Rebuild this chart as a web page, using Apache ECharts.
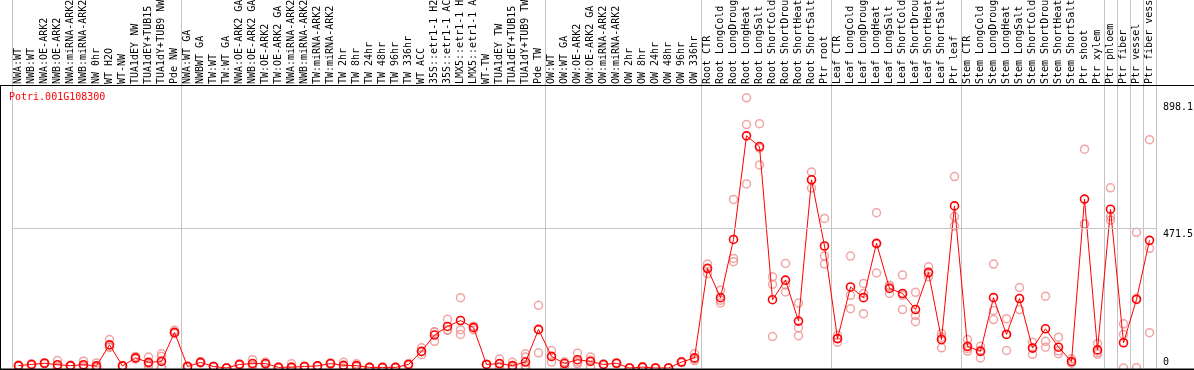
<!DOCTYPE html>
<html><head><meta charset="utf-8">
<script src="https://cdn.jsdelivr.net/npm/echarts@6/dist/echarts.min.js"></script>
<style>html,body{margin:0;padding:0;background:#fff}#c{width:1194px;height:370px}</style>
</head><body><div id="c"></div><script>
const geneName = 'Potri.001G108300';
const categories = [
 'NWA:WT','NWB:WT','NWA:OE-ARK2','NWB:OE-ARK2','NWA:miRNA-ARK2','NWB:miRNA-ARK2','NW 0hr','WT H2O','WT-NW','TUA1dEY NW','TUA1dEY+TUB15','TUA1dY+TUB9 NW','Pde NW',
 'NWA:WT GA','NWBWT GA','TW:WT','TW:WT GA','NWA:OE-ARK2 GA','NWB:OE-ARK2 GA','TW:OE-ARK2','TW:OE-ARK2 GA','NWA:miRNA-ARK2','NWB:miRNA-ARK2','TW:miRNA-ARK2','TW:miRNA-ARK2','TW 2hr','TW 8hr','TW 24hr','TW 48hr','TW 96hr','TW 336hr','WT ACC','35S::etr1-1 H2','35S::etr1-1 AC','LMX5::etr1-1 H','LMX5::etr1-1 A','WT-TW','TUA1dEY TW','TUA1dEY+TUB15','TUA1dY+TUB9 TW','Pde TW',
 'OW:WT','OW:WT GA','OW:OE-ARK2','OW:OE-ARK2 GA','OW:miRNA-ARK2','OW:miRNA-ARK2','OW 2hr','OW 8hr','OW 24hr','OW 48hr','OW 96hr','OW 336hr',
 'Root CTR','Root LongCold','Root LongDroug','Root LongHeat','Root LongSalt','Root ShortCold','Root ShortDrou','Root ShortHeat','Root ShortSalt','Ptr root',
 'Leaf CTR','Leaf LongCold','Leaf LongDroug','Leaf LongHeat','Leaf LongSalt','Leaf ShortCold','Leaf ShortDrou','Leaf ShortHeat','Leaf ShortSalt','Ptr leaf',
 'Stem CTR','Stem LongCold','Stem LongDroug','Stem LongHeat','Stem LongSalt','Stem ShortCold','Stem ShortDrou','Stem ShortHeat','Stem ShortSalt','Ptr shoot','Ptr xylem',
 'Ptr phloem','Ptr fiber','Ptr vessel','Ptr fiber vess'
];
const meanValues = [
 8,12,16,11,8,11,7,78,7,34,19,22,120,
 5,19,5,0,12,15,15,2,3,5,7,15,9,8,2,2,2,12,56,111,140,160,136,12,15,8,20,130,
 39,15,28,22,12,16,0,3,0,0,20,34,
 335,237,433,782,746,230,296,158,634,411,
 99,273,237,420,268,251,197,322,96,546,
 73,56,237,113,234,67,132,70,22,569,61,
 535,85,231,430
];
const rep1 = [
 8,12,16,25,8,23,17,96,7,39,37,48,127,
 3,19,5,0,12,28,20,2,14,5,7,15,19,14,2,1,2,12,68,121,164,237,140,12,30,19,48,211,
 59,20,50,37,12,16,0,3,0,0,20,48,
 350,262,568,910,823,307,352,219,660,504,
 110,377,285,523,279,313,255,341,116,645,
 96,73,350,166,271,87,242,104,31,737,82,
 607,149,457,769
];
const rep2 = [
 6,10,14,5,7,5,2,70,6,30,14,39,116,
 6,17,4,0,10,10,14,1,0,4,6,13,8,6,1,1,1,9,45,90,129,129,128,11,3,0,37,51,
 20,6,14,3,10,14,0,2,0,0,18,25,
 318,219,369,820,741,282,256,136,606,377,
 87,245,251,320,251,197,177,307,68,510,
 57,34,194,59,197,46,90,48,16,485,53,
 510,113,1,403
];
const rep3 = [
 10,14,18,3,9,5,2,70,8,33,6,25,117,
 6,21,6,0,14,7,11,3,0,6,8,17,0,4,3,2,2,15,55,122,127,113,140,13,12,5,8,128,
 38,19,20,26,14,18,0,4,0,0,22,30,
 337,228,358,620,684,106,280,109,634,350,
 99,200,183,418,274,245,156,318,104,479,
 66,60,163,114,234,68,70,58,20,485,46,
 498,0,235,119
];
const rep4 = categories.map(() => null); rep4[11] = 3; rep4[39] = 0;
const rep5 = categories.map(() => null); rep5[11] = 0; rep5[39] = 7;
const groupStarts = [0,13,41,53,63,73,84,85,86,87];
const yTickValues = [0, 471.5, 898.1];
const gridLineValue = 471.5;

const FONT = 'DejaVu Sans Mono';
const GRAY = '#c4c4c4';
const RED = '#ff0000';
const PINK = '#ec8e8e';
const sepInterval = (i) => groupStarts.indexOf(i) >= 0;

const chart = echarts.init(document.getElementById('c'), null, {renderer: 'canvas'});
const repSeries = [rep1, rep2, rep3, rep4, rep5].map((r) => ({
  type: 'scatter', xAxisIndex: 1, yAxisIndex: 1, data: r,
  symbol: 'circle', symbolSize: 8, silent: true,
  itemStyle: {color: 'rgba(0,0,0,0)', borderColor: PINK, borderWidth: 1.5},
  emphasis: {disabled: true}, z: 2
}));
chart.setOption({
  animation: false,
  backgroundColor: '#fff',
  grid: [
    {left: 12, right: 38, top: 0, height: 85, outerBoundsMode: 'none', containLabel: false},
    {left: 12, right: 38, top: 86, bottom: 2, outerBoundsMode: 'none', containLabel: false}
  ],
  xAxis: [
    {type: 'category', gridIndex: 0, data: categories, boundaryGap: true,
     axisLine: {show: false}, axisTick: {show: false}, axisLabel: {show: false},
     splitLine: {show: true, interval: sepInterval, lineStyle: {color: GRAY, width: 1}}},
    {type: 'category', gridIndex: 1, data: categories, position: 'top', boundaryGap: true,
     axisLine: {show: false}, axisTick: {show: false},
     axisLabel: {show: true, interval: 0, rotate: 90, margin: 2, color: '#000',
       fontFamily: FONT, fontSize: 10},
     splitLine: {show: true, interval: sepInterval, lineStyle: {color: GRAY, width: 1}}}
  ],
  yAxis: [
    {type: 'value', gridIndex: 0, show: false, min: 0, max: 1},
    {type: 'value', gridIndex: 1, position: 'right', min: 0, max: 950,
     axisLine: {show: false}, axisTick: {show: false}, splitLine: {show: false},
     axisLabel: {show: true, customValues: yTickValues, margin: 7, color: '#000',
       fontFamily: FONT, fontSize: 10, lineHeight: 12, verticalAlign: 'middle', align: 'left',
       formatter: (v) => v === 0 ? '0\n' : '\n' + v}}
  ],
  graphic: [
    {type: 'text', left: 9, top: 92, z: 100,
     style: {text: geneName, fill: RED, font: '10px "DejaVu Sans Mono"'}},
    {type: 'line', z: 100, shape: {x1: 0, y1: 85.5, x2: 1194, y2: 85.5}, style: {stroke: '#000', lineWidth: 1}},
    {type: 'line', z: 100, shape: {x1: 0.5, y1: 85, x2: 0.5, y2: 370}, style: {stroke: '#000', lineWidth: 1}},
    {type: 'line', z: 100, shape: {x1: 0, y1: 369.2, x2: 1194, y2: 369.2}, style: {stroke: '#000', lineWidth: 1.6}}
  ],
  series: repSeries.concat([{
    type: 'line', xAxisIndex: 1, yAxisIndex: 1, data: meanValues,
    symbol: 'circle', symbolSize: 8, showAllSymbol: true, silent: true,
    lineStyle: {color: RED, width: 1},
    itemStyle: {color: 'rgba(0,0,0,0)', borderColor: RED, borderWidth: 1.6},
    emphasis: {disabled: true}, z: 3,
    markLine: {silent: true, symbol: 'none', label: {show: false},
      lineStyle: {color: GRAY, type: 'solid', width: 1},
      data: [{yAxis: gridLineValue}]}
  }])
});
</script></body></html>
